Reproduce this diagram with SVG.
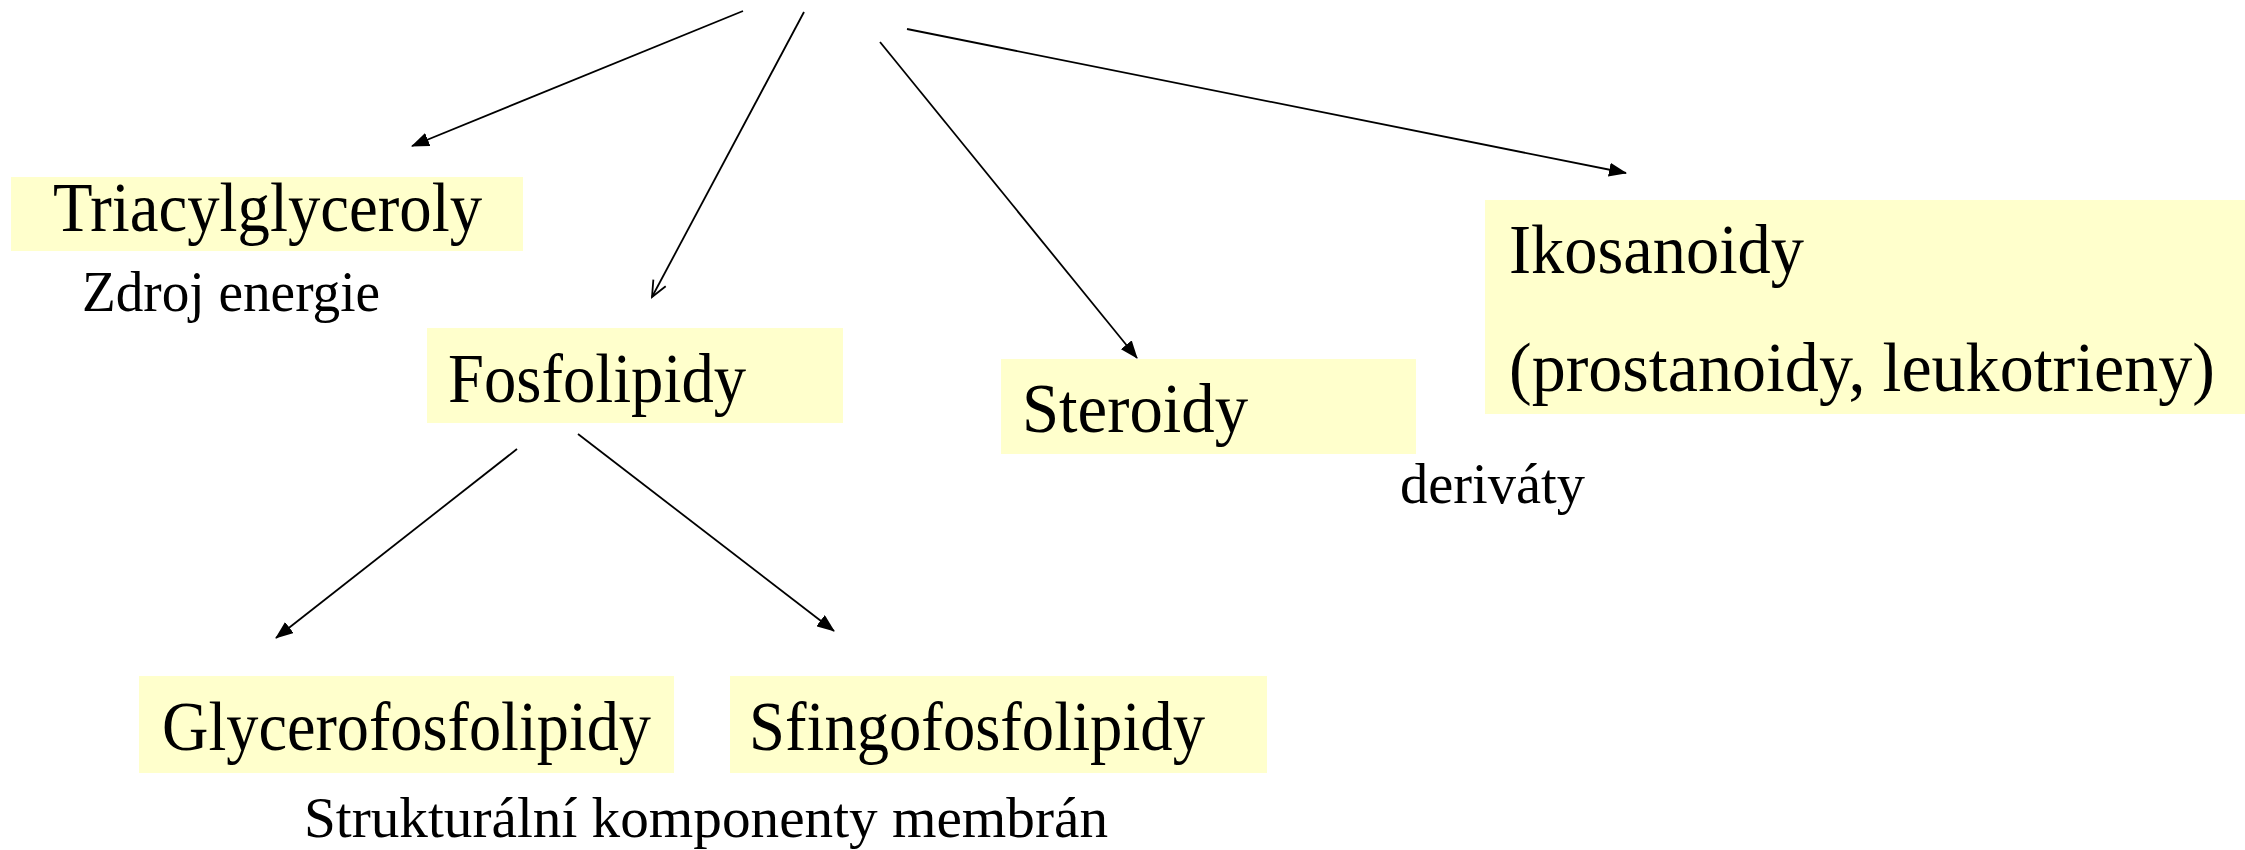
<svg xmlns="http://www.w3.org/2000/svg" width="2245" height="850" viewBox="0 0 2245 850">
<style>
.box{fill:#FFFFCC;}
.big{font-family:"Liberation Serif","Times New Roman",serif;font-size:70px;fill:#000;}
.small{font-family:"Liberation Serif","Times New Roman",serif;font-size:56px;fill:#000;}
.conn line{stroke:#000;stroke-width:1.8;fill:none;}
</style>
<defs>
<marker id="tri" markerUnits="userSpaceOnUse" viewBox="0 0 18 14" refX="17" refY="7" markerWidth="18" markerHeight="14" orient="auto">
<path d="M0,0 L18,7 L0,14 z" fill="#000"/>
</marker>
<marker id="open" markerUnits="userSpaceOnUse" viewBox="-2 -2 20 18" refX="16" refY="7" markerWidth="20" markerHeight="18" orient="auto">
<path d="M0,0 L16,7 L0,14" fill="none" stroke="#000" stroke-width="1.8"/>
</marker>
</defs>
<rect width="2245" height="850" fill="#fff"/>
<g id="triacylglyceroly">
<rect class="box" x="11" y="177" width="512" height="74"/>
<text class="big" x="53" y="231" textLength="429" lengthAdjust="spacingAndGlyphs">Triacylglyceroly</text>
</g>
<g id="zdroj-energie">
<text class="small" x="82" y="311" textLength="298" lengthAdjust="spacingAndGlyphs">Zdroj energie</text>
</g>
<g id="fosfolipidy">
<rect class="box" x="427" y="328" width="416" height="95"/>
<text class="big" x="448" y="402" textLength="298" lengthAdjust="spacingAndGlyphs">Fosfolipidy</text>
</g>
<g id="steroidy">
<rect class="box" x="1001" y="359" width="415" height="95"/>
<text class="big" x="1022" y="432" textLength="226" lengthAdjust="spacingAndGlyphs">Steroidy</text>
</g>
<g id="derivaty">
<text class="small" x="1400" y="503" textLength="185" lengthAdjust="spacingAndGlyphs">deriváty</text>
</g>
<g id="ikosanoidy">
<rect class="box" x="1485" y="200" width="760" height="214"/>
<text class="big" x="1509" y="273" textLength="295" lengthAdjust="spacingAndGlyphs">Ikosanoidy</text>
<text class="big" x="1509" y="391" textLength="706" lengthAdjust="spacingAndGlyphs">(prostanoidy, leukotrieny)</text>
</g>
<g id="glycerofosfolipidy">
<rect class="box" x="139" y="676" width="535" height="97"/>
<text class="big" x="162" y="750" textLength="489" lengthAdjust="spacingAndGlyphs">Glycerofosfolipidy</text>
</g>
<g id="sfingofosfolipidy">
<rect class="box" x="730" y="676" width="537" height="97"/>
<text class="big" x="749" y="750" textLength="456" lengthAdjust="spacingAndGlyphs">Sfingofosfolipidy</text>
</g>
<g id="strukturalni">
<text class="small" x="304" y="837" textLength="804" lengthAdjust="spacingAndGlyphs">Strukturální komponenty membrán</text>
</g>
<g id="connectors" class="conn">
<line x1="743" y1="11" x2="412" y2="146" marker-end="url(#tri)"/>
<line x1="804" y1="12" x2="652" y2="297" marker-end="url(#open)"/>
<line x1="880" y1="42" x2="1137" y2="358" marker-end="url(#tri)"/>
<line x1="907" y1="29" x2="1626" y2="173" marker-end="url(#tri)"/>
<line x1="517" y1="449" x2="276" y2="638" marker-end="url(#tri)"/>
<line x1="578" y1="434" x2="834" y2="631" marker-end="url(#tri)"/>
</g>
</svg>
